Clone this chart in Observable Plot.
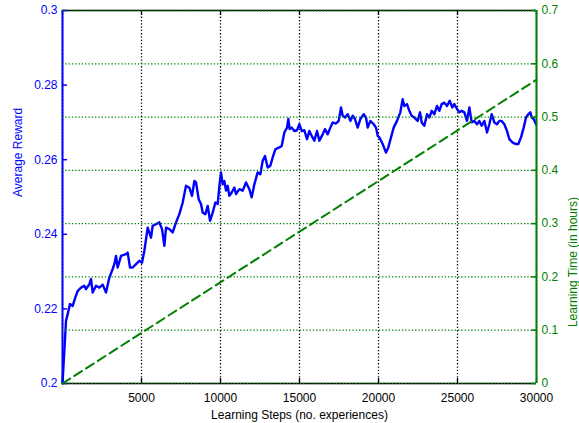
<!DOCTYPE html>
<html>
<head>
<meta charset="utf-8">
<script src="https://cdn.jsdelivr.net/npm/d3@7"></script>
<script src="https://cdn.jsdelivr.net/npm/@observablehq/plot@0.6"></script>
<style>
  html, body { margin: 0; padding: 0; background: #fff; }
  #c { position: relative; width: 579px; height: 423px; overflow: hidden; }
  #c svg { position: absolute; left: 0; top: 0; }
</style>
</head>
<body>
<div id="c"></div>
<script>
// ---- data ----
const steps = [0,222,328,475,644,813,961,1172,1383,1488,1699,1805,1910,2121,2332,2543,2754,2965,3176,3282,3387,3493,3704,4020,4126,4273,4442,4653,4864,5033,5181,5392,5603,5708,5919,6130,6299,6447,6552,6763,6974,7185,7396,7607,7818,8029,8198,8346,8451,8620,8767,8873,9042,9190,9337,9506,9675,9822,9930,10030,10138,10243,10349,10454,10560,10707,10876,10982,11193,11404,11615,11826,11973,12142,12353,12522,12670,12817,12986,13155,13303,13471,13725,13872,14041,14210,14294,14379,14505,14674,14843,14991,15138,15307,15476,15624,15771,15940,16109,16257,16468,16615,16784,16953,17101,17312,17480,17628,17733,17881,18050,18218,18366,18514,18683,18852,19063,19210,19316,19485,19696,19843,19949,20053,20264,20475,20622,20791,20960,21171,21382,21530,21635,21804,21952,22099,22268,22479,22627,22732,22901,23070,23218,23365,23534,23703,23851,23998,24167,24336,24505,24673,24800,24969,25117,25264,25433,25602,25750,25897,26066,26235,26383,26530,26699,26868,27016,27163,27332,27501,27649,27796,27965,28134,28282,28493,28704,28851,29020,29189,29337,29484,29611,29695,29822,29970];
const rewards = [0.2,0.2168,0.2186,0.2213,0.2208,0.2231,0.2248,0.2257,0.2262,0.2253,0.2266,0.2280,0.2244,0.2262,0.2257,0.2265,0.2244,0.2284,0.2307,0.2320,0.2342,0.2311,0.2342,0.2347,0.2351,0.2311,0.2311,0.2320,0.2329,0.2324,0.2356,0.2418,0.2391,0.2423,0.2427,0.2432,0.2414,0.2369,0.2418,0.2414,0.2405,0.2432,0.2454,0.2485,0.2530,0.2525,0.2503,0.2543,0.2539,0.2494,0.2481,0.2458,0.2454,0.2476,0.2436,0.2458,0.2485,0.2481,0.2530,0.2566,0.2534,0.2543,0.2517,0.2530,0.2503,0.2512,0.2525,0.2508,0.2521,0.2517,0.2539,0.2521,0.2499,0.2534,0.2566,0.2561,0.2597,0.2610,0.2579,0.2584,0.2606,0.2628,0.2633,0.2637,0.2673,0.2686,0.2709,0.2682,0.2686,0.2677,0.2679,0.2695,0.2677,0.2679,0.2655,0.2677,0.2664,0.2651,0.2677,0.2651,0.2668,0.2682,0.2668,0.2686,0.2700,0.2697,0.2704,0.2740,0.2718,0.2713,0.2722,0.2704,0.2718,0.2709,0.2686,0.2709,0.2722,0.2713,0.2686,0.2704,0.2695,0.2686,0.2664,0.2660,0.2642,0.2619,0.2633,0.2660,0.2686,0.2704,0.2727,0.2762,0.2744,0.2749,0.2731,0.2718,0.2713,0.2704,0.2727,0.2700,0.2691,0.2722,0.2713,0.2731,0.2722,0.2744,0.2731,0.2749,0.2753,0.2744,0.2758,0.2740,0.2749,0.2736,0.2727,0.2731,0.2727,0.2704,0.2740,0.2700,0.2704,0.2695,0.2704,0.2691,0.2704,0.2673,0.2695,0.2722,0.2700,0.2695,0.2704,0.2704,0.2695,0.2677,0.2655,0.2646,0.2642,0.2642,0.2660,0.2686,0.2713,0.2722,0.2727,0.2713,0.2709,0.2695];
const timeSteps = [0, 30000];
const timeHours = [0, 0.57];
const xTicks = [5000, 10000, 15000, 20000, 25000, 30000];
const xGrid = [0, 5000, 10000, 15000, 20000, 25000, 30000];
const leftTicks = [0.2, 0.22, 0.24, 0.26, 0.28, 0.3];
const rightTicks = [0, 0.1, 0.2, 0.3, 0.4, 0.5, 0.6, 0.7];
const xLabel = "Learning Steps (no. experiences)";
const yLabel = "Average Reward";
const y2Label = "Learning Time (in hours)";

const rewardData = steps.map((s, i) => ({step: s, reward: rewards[i]}));
const timeData = timeSteps.map((s, i) => ({step: s, hours: timeHours[i]}));

// ---- layout ----
const W = 579, H = 423, mL = 62, mR = 43, mT = 10, mB = 40;
const innerW = W - mL - mR, innerH = H - mT - mB;
const BLUE = "#0000ff", GREEN = "#008000";
const dots = "1.3,2";
const style = {fontFamily: "'Liberation Sans', Arial, Helvetica, sans-serif", fontSize: "12px", background: "transparent", overflow: "visible"};

const p1 = Plot.plot({
  width: W, height: H, marginLeft: mL, marginRight: mR, marginTop: mT, marginBottom: mB,
  style,
  x: {domain: [0, 30000]},
  y: {domain: [0.2, 0.3]},
  marks: [
    Plot.ruleX(xGrid, {stroke: "black", strokeDasharray: dots, strokeWidth: 1.3}),
    Plot.ruleY([0.2, 0.3], {stroke: "black", strokeWidth: 1.3}),
    Plot.tickX(xGrid, {stroke: "black", strokeWidth: 1.3, insetTop: innerH - 5}),
    Plot.tickX(xGrid, {stroke: "black", strokeWidth: 1.3, insetBottom: innerH - 5}),
    Plot.line(rewardData, {x: "step", y: "reward", stroke: BLUE, strokeWidth: 2.4}),
    Plot.ruleX([0], {stroke: BLUE, strokeWidth: 2}),
    Plot.tickY(leftTicks, {stroke: BLUE, strokeWidth: 1.5, insetRight: innerW - 5}),
    Plot.axisY({ticks: leftTicks, tickSize: 0, tickPadding: 5, tickFormat: d => String(+d.toFixed(2)), fill: BLUE, label: null}),
    Plot.axisX({ticks: xTicks, tickSize: 0, tickPadding: 10, tickFormat: d3.format("d"), fill: "black", label: null}),
    Plot.text([xLabel], {frameAnchor: "bottom", dy: 35, fill: "black", fontSize: 12}),
    Plot.text([yLabel], {frameAnchor: "left", rotate: -90, dx: -44, fill: BLUE, fontSize: 12})
  ]
});

const p2 = Plot.plot({
  width: W, height: H, marginLeft: mL, marginRight: mR, marginTop: mT, marginBottom: mB,
  style,
  x: {domain: [0, 30000], axis: null},
  y: {domain: [0, 0.7]},
  marks: [
    Plot.ruleY(rightTicks, {stroke: GREEN, strokeDasharray: dots, strokeWidth: 1.3}),
    Plot.line(timeData, {x: "step", y: "hours", stroke: GREEN, strokeWidth: 2, strokeDasharray: "9,5"}),
    Plot.ruleX([30000], {stroke: GREEN, strokeWidth: 2}),
    Plot.tickY(rightTicks, {stroke: GREEN, strokeWidth: 1.5, insetLeft: innerW - 5}),
    Plot.axisY({anchor: "right", ticks: rightTicks, tickSize: 0, tickPadding: 5, tickFormat: d => String(+d.toFixed(1)), fill: GREEN, label: null}),
    Plot.text([y2Label], {frameAnchor: "right", rotate: -90, dx: 37, fill: GREEN, fontSize: 12})
  ]
});

const c = document.getElementById("c");
c.appendChild(p1);
c.appendChild(p2);
</script>
</body>
</html>
